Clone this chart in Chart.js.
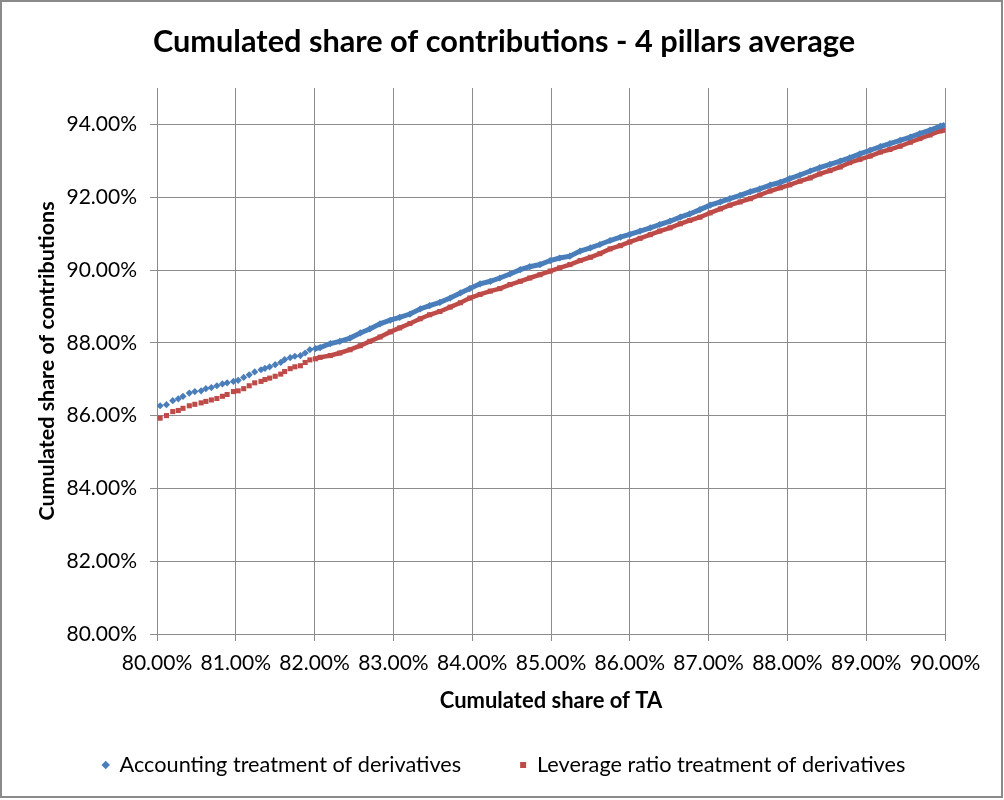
<!DOCTYPE html>
<html>
<head>
<meta charset="utf-8">
<script src="https://cdn.jsdelivr.net/npm/chart.js@4.4.1/dist/chart.umd.min.js"></script>
<style>
  html, body { margin: 0; padding: 0; background: #ffffff; }
  #wrap { width: 1004px; height: 800px; position: relative; }
</style>
</head>
<body>
<div id="wrap"><canvas id="c" width="1004" height="800"></canvas></div>
<script>
// Cumulated share of total assets (x, %)
const taShare = [
  80.04, 80.12, 80.20, 80.27, 80.33, 80.41, 80.48, 80.56, 80.62, 80.69,
  80.76, 80.83, 80.89, 80.97, 81.03, 81.10, 81.17, 81.24, 81.32, 81.37,
  81.43, 81.50, 81.57, 81.62, 81.69, 81.75, 81.82, 81.88, 81.94, 82.01,
  82.07, 82.20, 82.32, 82.45, 82.58, 82.70, 82.83, 82.96, 83.08, 83.21,
  83.34, 83.46, 83.59, 83.72, 83.85, 83.97, 84.10, 84.23, 84.35, 84.48,
  84.61, 84.73, 84.86, 84.99, 85.11, 85.24, 85.37, 85.50, 85.62, 85.75,
  85.88, 86.00, 86.13, 86.26, 86.38, 86.51, 86.64, 86.76, 86.89, 87.02,
  87.15, 87.27, 87.40, 87.53, 87.65, 87.78, 87.91, 88.03, 88.16, 88.29,
  88.41, 88.54, 88.67, 88.79, 88.92, 89.05, 89.18, 89.30, 89.43, 89.56,
  89.68, 89.81, 89.94, 89.98
];
// Accounting treatment of derivatives (y, %)
const accounting = [
  86.27, 86.30, 86.41, 86.46, 86.53, 86.62, 86.66, 86.68, 86.74, 86.77,
  86.82, 86.87, 86.90, 86.94, 86.97, 87.05, 87.12, 87.20, 87.26, 87.30,
  87.34, 87.40, 87.46, 87.54, 87.59, 87.63, 87.65, 87.72, 87.81, 87.84,
  87.87, 87.98, 88.04, 88.13, 88.27, 88.38, 88.52, 88.62, 88.70, 88.79,
  88.93, 89.02, 89.11, 89.23, 89.37, 89.49, 89.62, 89.69, 89.78, 89.89,
  90.01, 90.09, 90.15, 90.26, 90.33, 90.38, 90.52, 90.61, 90.70, 90.81,
  90.90, 90.98, 91.07, 91.16, 91.25, 91.34, 91.45, 91.54, 91.66, 91.78,
  91.87, 91.96, 92.05, 92.15, 92.23, 92.33, 92.41, 92.51, 92.61, 92.72,
  92.81, 92.90, 92.99, 93.08, 93.19, 93.29, 93.39, 93.47, 93.56, 93.65,
  93.75, 93.84, 93.95, 93.97
];
// Leverage ratio treatment of derivatives (y, %)
const leverage = [
  85.93, 86.00, 86.11, 86.14, 86.20, 86.27, 86.31, 86.35, 86.39, 86.43,
  86.47, 86.53, 86.58, 86.66, 86.68, 86.74, 86.82, 86.90, 86.94, 86.99,
  87.03, 87.08, 87.14, 87.21, 87.29, 87.34, 87.37, 87.46, 87.53, 87.56,
  87.60, 87.65, 87.72, 87.81, 87.92, 88.04, 88.16, 88.30, 88.41, 88.53,
  88.66, 88.77, 88.86, 88.98, 89.10, 89.23, 89.33, 89.42, 89.49, 89.60,
  89.69, 89.78, 89.87, 89.97, 90.06, 90.15, 90.26, 90.35, 90.45, 90.58,
  90.67, 90.77, 90.87, 90.97, 91.07, 91.16, 91.27, 91.36, 91.45, 91.57,
  91.68, 91.78, 91.87, 91.96, 92.06, 92.17, 92.26, 92.34, 92.44, 92.53,
  92.64, 92.73, 92.83, 92.95, 93.04, 93.13, 93.24, 93.31, 93.40, 93.51,
  93.61, 93.71, 93.82, 93.84
];
const seriesNames = ['Accounting treatment of derivatives', 'Leverage ratio treatment of derivatives'];
const chartTitle = 'Cumulated share of contributions - 4 pillars average';
const xTitle = 'Cumulated share of TA';
const yTitle = 'Cumulated share of contributions';

const FONT = 'Lato, "Open Sans", "Liberation Sans", sans-serif';
const GRID = '#8c8c8c';
const BLUE = '#4a7ebb';
const RED = '#be4b48';
const PAD_L = 4;
const LEG_PAD = 59;
const LEG_FONT = 21.7;
const LEG_TOP = 765 - LEG_FONT / 2 - LEG_PAD;
const LEGEND_H = 800 - LEG_TOP;
const TITLE_FONT = 30.7;
const YT_FONT = 21.5;

const toPts = arr => arr.map((v, i) => ({ x: taShare[i], y: v }));
const denseOnly = color => ({
  borderColor: ctx => (ctx.p0.parsed.x < 82 ? 'rgba(0,0,0,0)' : color)
});

const frame = {
  id: 'frame',
  beforeDraw(chart) {
    const c = chart.ctx;
    c.save();
    c.fillStyle = '#ffffff';
    c.fillRect(0, 0, chart.width, chart.height);
    c.restore();
  },
  afterDraw(chart) {
    const c = chart.ctx;
    c.save();
    c.strokeStyle = '#8a8a8a';
    c.lineWidth = 2;
    c.strokeRect(1, 1, 1001, 796);
    c.restore();
  },
  beforeLayout(chart) {
    const lg = chart.legend;
    if (lg && !lg._fixedH) {
      const orig = lg.fit;
      lg.fit = function () { orig.call(this); this.height = LEGEND_H; };
      lg._fixedH = true;
    }
  }
};

new Chart(document.getElementById('c'), {
  type: 'scatter',
  data: {
    datasets: [
      {
        label: seriesNames[0],
        data: toPts(accounting),
        pointStyle: 'rectRot',
        pointRadius: 3.6,
        pointBackgroundColor: BLUE,
        pointBorderColor: BLUE,
        pointBorderWidth: 0,
        backgroundColor: BLUE,
        borderColor: BLUE,
        showLine: true,
        borderWidth: 5,
        segment: denseOnly(BLUE)
      },
      {
        label: seriesNames[1],
        data: toPts(leverage),
        pointStyle: 'rect',
        pointRadius: 3.6,
        pointBackgroundColor: RED,
        pointBorderColor: RED,
        pointBorderWidth: 0,
        backgroundColor: RED,
        borderColor: RED,
        showLine: true,
        borderWidth: 4.5,
        segment: denseOnly(RED)
      }
    ]
  },
  options: {
    responsive: false,
    animation: false,
    layout: { padding: { left: PAD_L, right: 0, top: 0, bottom: 0 } },
    plugins: {
      tooltip: { enabled: false },
      title: {
        display: true,
        text: chartTitle,
        color: '#000',
        font: { family: FONT, size: TITLE_FONT, weight: 'bold' },
        padding: { top: 24, bottom: 88 - 24 - TITLE_FONT * 1.2 }
      },
      legend: {
        display: true,
        position: 'bottom',
        labels: {
          usePointStyle: true,
          boxWidth: 6,
          boxHeight: 6,
          padding: LEG_PAD,
          color: '#000',
          font: { family: FONT, size: LEG_FONT }
        }
      }
    },
    scales: {
      x: {
        type: 'linear',
        min: 80,
        max: 90,
        afterFit: s => { s.height = LEG_TOP - 634; },
        ticks: {
          stepSize: 1,
          padding: 10,
          color: '#000',
          font: { family: FONT, size: 21 },
          maxRotation: 0,
          callback: v => v.toFixed(2) + '%'
        },
        grid: { color: GRID, tickColor: GRID, tickLength: 7, lineWidth: 1 },
        border: { display: true, color: GRID, width: 1 },
        title: {
          display: true,
          text: xTitle,
          color: '#000',
          font: { family: FONT, size: 22, weight: 'bold' },
          padding: { top: 0, bottom: (LEG_TOP - 701) - 13.2 }
        }
      },
      y: {
        type: 'linear',
        min: 80,
        max: 95,
        afterFit: s => { s.width = 157 - PAD_L; },
        ticks: {
          stepSize: 2,
          includeBounds: false,
          padding: 13,
          color: '#000',
          font: { family: FONT, size: 21 },
          callback: v => v.toFixed(2) + '%'
        },
        grid: { color: GRID, tickColor: GRID, tickLength: 7, lineWidth: 1 },
        border: { display: true, color: GRID, width: 1 },
        title: {
          display: true,
          text: yTitle,
          color: '#000',
          font: { family: FONT, size: YT_FONT, weight: 'bold' },
          padding: { top: 47 - PAD_L - YT_FONT * 0.6, bottom: 0 }
        }
      },
      yRight: {
        type: 'linear',
        position: 'right',
        display: true,
        afterFit: s => { s.width = 59; },
        ticks: { display: false },
        grid: { display: false, drawTicks: false },
        border: { display: false }
      }
    }
  },
  plugins: [frame]
});
</script>
</body>
</html>
